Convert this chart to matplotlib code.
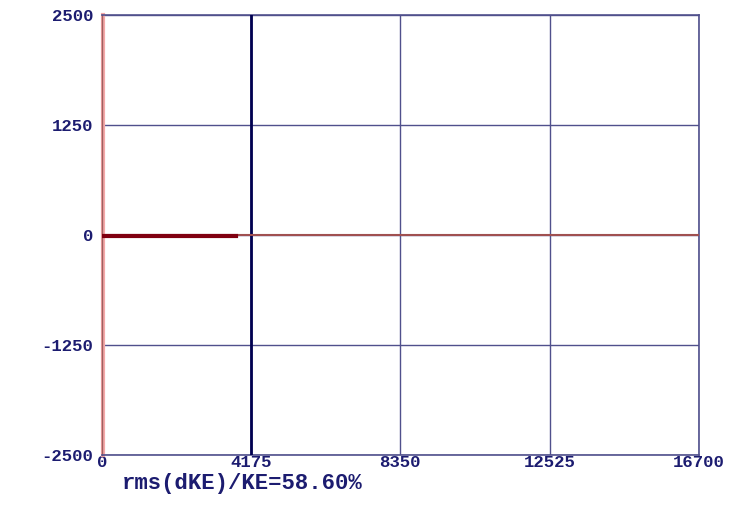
import matplotlib
matplotlib.use('Agg')
import matplotlib.pyplot as plt

# axis ticks
x_ticks = [0, 4175, 8350, 12525, 16700]
y_ticks = [-2500, -1250, 0, 1250, 2500]

# energy trace (flat at zero over the run)
trace_x = [0, 16700]
trace_y = [0, 0]

# early segment, slightly below zero
early_x = [0, 3750]
early_y = [-15, -15]

# initial spike at t=0
spike_x = [20, 20]
spike_y = [-2500, 2500]

marker_x = 4175
rms_text = 'rms(dKE)/KE=58.60%'

navy = '#1c1c70'
grid_c = '#50508c'

fig = plt.figure(figsize=(7.49, 5.05), dpi=100)
ax = fig.add_axes([0.136, 0.099, 0.797, 0.871])

ax.set_xlim(0, 16700)
ax.set_ylim(-2500, 2500)
ax.set_xticks(x_ticks)
ax.set_yticks(y_ticks)
ax.set_xticklabels([str(v) for v in x_ticks])
ax.set_yticklabels([str(v) for v in y_ticks])
ax.grid(True, color=grid_c, linewidth=1.0)
ax.set_axisbelow(True)

for s in ['top', 'bottom', 'right']:
    ax.spines[s].set_color(grid_c)
    ax.spines[s].set_linewidth(1.2)
ax.spines['left'].set_color('#a06060')
ax.spines['left'].set_linewidth(1.0)

ax.tick_params(length=0, colors=navy, labelsize=12.5)
ax.tick_params(axis='x', pad=0)
ax.tick_params(axis='y', pad=6)
for lab in ax.get_xticklabels() + ax.get_yticklabels():
    lab.set_family('Liberation Mono')
    lab.set_fontweight('bold')

ax.axvline(marker_x, color='#000050', linewidth=2.0, zorder=3)
ax.plot(spike_x, spike_y, color='#f4a8a8', linewidth=3, zorder=2, clip_on=False)
ax.plot(trace_x, trace_y, color='#a05050', linewidth=1.5, zorder=4)
ax.plot(early_x, early_y, color='#800010', linewidth=3, zorder=5)

fig.text(0.163, 0.043, rms_text, color=navy, fontsize=16, fontweight='bold',
         family='Liberation Mono', ha='left', va='center')

fig.savefig('out.png', dpi=100)
